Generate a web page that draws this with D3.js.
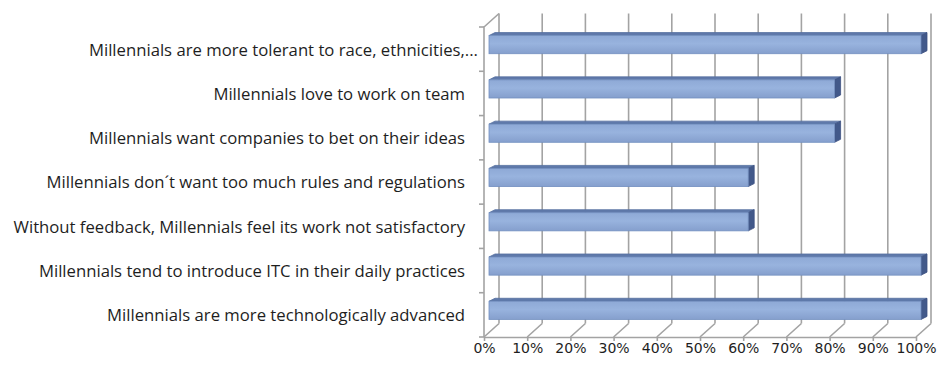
<!DOCTYPE html>
<html>
<head>
<meta charset="utf-8">
<script src="https://cdn.jsdelivr.net/npm/d3@7/dist/d3.min.js"></script>
<style>
  html, body { margin: 0; padding: 0; background: #ffffff; }
  svg { display: block; }
</style>
</head>
<body>
<svg id="chart" width="938" height="369"></svg>
<script>
// Survey statements, top to bottom
const categories = [
  "Millennials are more tolerant to race, ethnicities,...",
  "Millennials love to work on team",
  "Millennials want companies to bet on their ideas",
  "Millennials don\u00b4t want too much rules and regulations",
  "Without feedback, Millennials feel its work not satisfactory",
  "Millennials tend to introduce ITC in their daily practices",
  "Millennials are more technologically advanced"
];
// Share of agreement for each statement
const values = [1.0, 0.8, 0.8, 0.6, 0.6, 1.0, 1.0];
// Percentage axis ticks
const tickValues = [0, 0.1, 0.2, 0.3, 0.4, 0.5, 0.6, 0.7, 0.8, 0.9, 1.0];

const svg = d3.select("#chart");

// Front plane of the 3-D box
const originX = 484, floorY = 337, topY = 27;
const plotW = 432;
// Depth vector from the front plane to the back wall
const depth = { dx: 15, dy: -13.5 };
// Bar face sits a third of the way into the box; its own visible thickness
const barFront = 1 / 3;
const barDepth = { dx: 6, dy: -3 };

const x = d3.scaleLinear().domain([0, 1]).range([0, plotW]);
const y = d3.scaleBand().domain(categories).range([topY, floorY])
  .paddingInner(0.59).paddingOuter(0.295);

// project (value, depth fraction, screen y on front plane) -> screen point
const P = (v, d, sy) => [originX + x(v) + d * depth.dx, sy + d * depth.dy];

const gridColor = "#a3a3a3";
const grid = svg.append("g").attr("stroke", gridColor).attr("stroke-width", 1.6).attr("fill", "none");

// Back-wall vertical gridlines
grid.selectAll("line.gv").data(tickValues).join("line")
  .attr("class", "gv")
  .attr("x1", d => P(d, 1, floorY)[0]).attr("y1", d => P(d, 1, floorY)[1])
  .attr("x2", d => P(d, 1, topY)[0]).attr("y2", d => P(d, 1, topY)[1]);

// Floor depth lines
grid.selectAll("line.gf").data(tickValues).join("line")
  .attr("class", "gf")
  .attr("x1", d => P(d, 0, floorY)[0]).attr("y1", d => P(d, 0, floorY)[1])
  .attr("x2", d => P(d, 1, floorY)[0]).attr("y2", d => P(d, 1, floorY)[1]);

// Left wall: front edge and top edge
grid.append("path")
  .attr("d", d3.line()([P(0, 1, topY), P(0, 0, topY), P(0, 0, floorY)]));

// Category boundary ticks on the left wall
const bounds = categories.map(c => y(c) - y.step() * y.paddingInner() / 2).concat([floorY]);
bounds[0] = topY;
grid.selectAll("line.ct").data(bounds).join("line")
  .attr("class", "ct")
  .attr("x1", originX - 5).attr("x2", originX)
  .attr("y1", d => d).attr("y2", d => d);

// Bars
const defs = svg.append("defs");
const grad = defs.append("linearGradient").attr("id", "barFace")
  .attr("x1", 0).attr("y1", 0).attr("x2", 0).attr("y2", 1);
grad.append("stop").attr("offset", "0%").attr("stop-color", "#8ea9d6");
grad.append("stop").attr("offset", "45%").attr("stop-color", "#98b3de");
grad.append("stop").attr("offset", "100%").attr("stop-color", "#859fcd");

const bars = svg.append("g");
const barData = categories.map((c, i) => ({ c, v: values[i] }));

bars.selectAll("g.bar").data(barData).join("g").attr("class", "bar")
  .each(function (d) {
    const g = d3.select(this);
    const yt = y(d.c) + barFront * depth.dy;
    const yb = yt + y.bandwidth();
    const xl = originX + barFront * depth.dx;
    const xr = xl + x(d.v);
    const line = d3.line();
    // top face
    g.append("path")
      .attr("d", line([[xl, yt], [xr, yt], [xr + barDepth.dx, yt + barDepth.dy], [xl + barDepth.dx, yt + barDepth.dy]]) + "Z")
      .attr("fill", "#5f79aa").attr("stroke", "#55709f").attr("stroke-width", 0.8);
    // end face
    g.append("path")
      .attr("d", line([[xr, yt], [xr + barDepth.dx, yt + barDepth.dy], [xr + barDepth.dx, yb + barDepth.dy], [xr, yb]]) + "Z")
      .attr("fill", "#42598a").attr("stroke", "#3d5282").attr("stroke-width", 0.8);
    // front face
    g.append("rect")
      .attr("x", xl).attr("y", yt)
      .attr("width", x(d.v)).attr("height", y.bandwidth())
      .attr("fill", "url(#barFace)").attr("stroke", "#7390c0").attr("stroke-width", 0.8);
  });

// Percentage axis along the front floor edge
const xAxis = d3.axisBottom(x)
  .tickValues(tickValues)
  .tickFormat(d3.format(".0%"))
  .tickSize(4).tickSizeOuter(0).tickPadding(2);
const gx = svg.append("g").attr("transform", `translate(${originX},${floorY})`).call(xAxis);
gx.selectAll("path, line").attr("stroke", gridColor).attr("stroke-width", 1.6);
gx.selectAll("text")
  .attr("fill", "#1e1e1e")
  .style("font-family", "'DejaVu Sans', sans-serif")
  .style("font-size", "14px");

// Statement labels
const yAxis = d3.axisLeft(y).tickSize(0).tickPadding(19);
const gy = svg.append("g").attr("transform", `translate(${originX},1)`).call(yAxis);
gy.select(".domain").remove();
gy.selectAll("text")
  .attr("fill", "#1e1e1e")
  .style("font-family", "'Open Sans', sans-serif")
  .style("font-size", "16.7px");
// the truncated first statement runs a little past the others
gy.selectAll("text").filter((d, i) => i === 0).attr("dx", 13);
</script>
</body>
</html>
